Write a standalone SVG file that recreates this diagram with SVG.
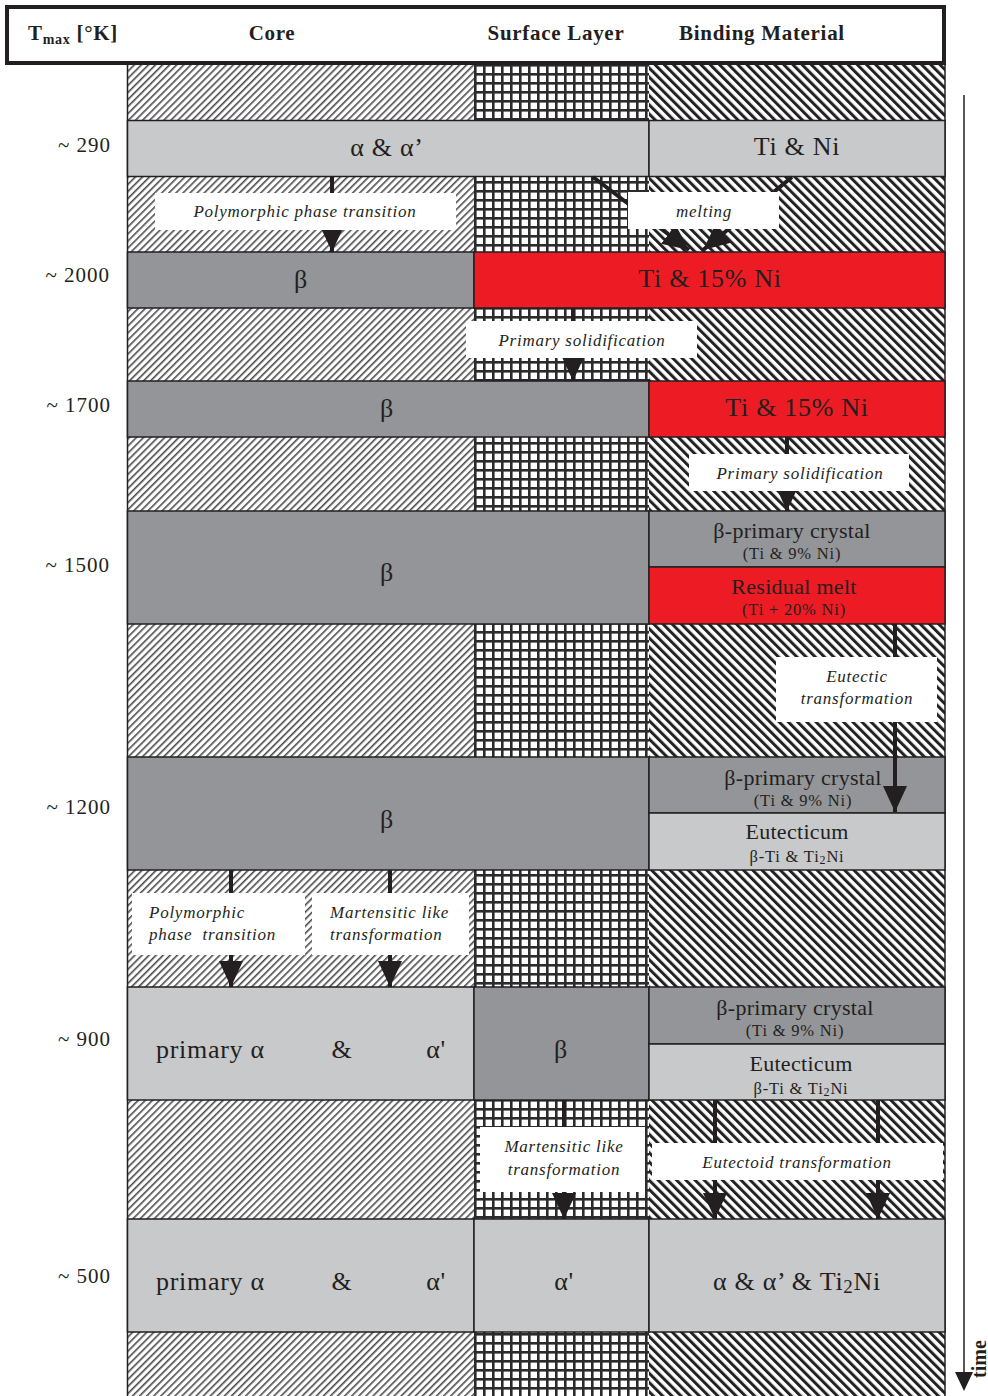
<svg xmlns="http://www.w3.org/2000/svg" width="988" height="1396" viewBox="0 0 988 1396">
<style>
.t{font-family:"Liberation Serif","Times New Roman",serif;fill:#231f20}
.h{font-weight:bold;font-size:21px;letter-spacing:0.7px}
.big{font-size:26px;letter-spacing:0.7px}
.mid{font-size:22px;letter-spacing:0.3px}
.sm{font-size:16.5px;letter-spacing:0.8px}
.it{font-style:italic;font-size:17px;letter-spacing:0.75px}
.lab{font-size:21px;letter-spacing:1px}
.lg{fill:#c8c9cb;stroke:#231f20;stroke-width:1.5}
.dg{fill:#939598;stroke:#231f20;stroke-width:1.5}
.rd{fill:#ed1c24;stroke:#231f20;stroke-width:1.5}
.box{fill:#fff}
.arr{stroke:#231f20;stroke-width:4;fill:none;marker-end:url(#ah)}
</style>
<defs>
<pattern id="pc" width="5" height="5" patternUnits="userSpaceOnUse" patternTransform="rotate(45)"><rect width="5" height="5" fill="#fff"/><line x1="0.8" y1="0" x2="0.8" y2="5" stroke="#4a4a4a" stroke-width="1.6"/></pattern>
<pattern id="ps" width="9" height="9" patternUnits="userSpaceOnUse" x="474" y="64"><rect width="9" height="9" fill="#fff"/><rect x="0" y="0" width="2.6" height="9" fill="#2b2b2b"/><rect x="0" y="0" width="9" height="2.6" fill="#2b2b2b"/></pattern>
<pattern id="pb" width="6.5" height="6.5" patternUnits="userSpaceOnUse" patternTransform="rotate(-45)"><rect width="6.5" height="6.5" fill="#fff"/><line x1="1.5" y1="0" x2="1.5" y2="6.5" stroke="#222" stroke-width="3"/></pattern>
<marker id="ah" markerUnits="userSpaceOnUse" viewBox="0 0 26 24" markerWidth="26" markerHeight="24" refX="26" refY="12" orient="auto"><path d="M0,0 L26,12 L0,24 z" fill="#231f20"/></marker>
</defs>
<rect width="988" height="1396" fill="#fff"/>

<g id="hatch">
<rect x="127" y="64" width="347" height="1332" fill="url(#pc)"/>
<rect x="474" y="64" width="175" height="1332" fill="url(#ps)"/>
<rect x="649" y="64" width="296" height="1332" fill="url(#pb)"/>
<line x1="127.5" y1="64" x2="127.5" y2="1396" stroke="#231f20" stroke-width="1.5"/>
<line x1="945" y1="64" x2="945" y2="1396" stroke="#231f20" stroke-width="1.5"/>
</g>

<g id="header">
<rect x="7" y="7" width="937" height="56" fill="#fff" stroke="#231f20" stroke-width="4"/>
<text class="t h" x="28" y="40">T<tspan font-size="14" dy="4">max</tspan><tspan dy="-4"> [°K]</tspan></text>
<text class="t h" x="272" y="40" text-anchor="middle">Core</text>
<text class="t h" x="556" y="40" text-anchor="middle">Surface Layer</text>
<text class="t h" x="762" y="40" text-anchor="middle">Binding Material</text>
</g>

<g id="temps" class="t lab" text-anchor="end">
<text x="111" y="152">~ 290</text>
<text x="110" y="282">~ 2000</text>
<text x="111" y="412">~ 1700</text>
<text x="110" y="572">~ 1500</text>
<text x="111" y="814">~ 1200</text>
<text x="111" y="1046">~ 900</text>
<text x="111" y="1283">~ 500</text>
</g>

<g id="row290">
<rect class="lg" x="127.5" y="120.5" width="521.5" height="56"/>
<rect class="lg" x="649" y="120.5" width="296" height="56"/>
<text class="t big" x="387" y="156" text-anchor="middle">α &amp; α’</text>
<text class="t big" x="797" y="155" text-anchor="middle">Ti &amp; Ni</text>
</g>

<g id="row2000">
<rect class="dg" x="127.5" y="252" width="346.5" height="56"/>
<rect class="rd" x="474" y="252" width="471" height="56"/>
<text class="t big" x="301" y="288" text-anchor="middle">β</text>
<text class="t big" x="710" y="287" text-anchor="middle">Ti &amp; 15% Ni</text>
</g>

<g id="row1700">
<rect class="dg" x="127.5" y="381" width="521.5" height="56"/>
<rect class="rd" x="649" y="381" width="296" height="56"/>
<text class="t big" x="387" y="417" text-anchor="middle">β</text>
<text class="t big" x="797" y="416" text-anchor="middle">Ti &amp; 15% Ni</text>
</g>

<g id="row1500">
<rect class="dg" x="127.5" y="511" width="521.5" height="113"/>
<rect class="dg" x="649" y="511" width="296" height="56"/>
<rect class="rd" x="649" y="567" width="296" height="57"/>
<text class="t big" x="387" y="581" text-anchor="middle">β</text>
<text class="t mid" x="792" y="538" text-anchor="middle">β-primary crystal</text>
<text class="t sm" x="792" y="559" text-anchor="middle">(Ti &amp; 9% Ni)</text>
<text class="t mid" x="794" y="594" text-anchor="middle">Residual melt</text>
<text class="t sm" x="794" y="615" text-anchor="middle">(Ti + 20% Ni)</text>
</g>

<g id="row1200">
<rect class="dg" x="127.5" y="757" width="521.5" height="113"/>
<rect class="dg" x="649" y="757" width="296" height="56"/>
<rect class="lg" x="649" y="813" width="296" height="57"/>
<text class="t big" x="387" y="828" text-anchor="middle">β</text>
<text class="t mid" x="803" y="785" text-anchor="middle">β-primary crystal</text>
<text class="t sm" x="803" y="806" text-anchor="middle">(Ti &amp; 9% Ni)</text>
<text class="t mid" x="797" y="839" text-anchor="middle">Eutecticum</text>
<text class="t sm" x="797" y="862" text-anchor="middle">β-Ti &amp; Ti<tspan font-size="12" dy="2">2</tspan><tspan dy="-2">Ni</tspan></text>
</g>

<g id="row900">
<rect class="lg" x="127.5" y="987" width="346.5" height="113"/>
<rect class="dg" x="474" y="987" width="175" height="113"/>
<rect class="dg" x="649" y="987" width="296" height="57"/>
<rect class="lg" x="649" y="1044" width="296" height="56"/>
<text class="t big" x="156" y="1058">primary α</text>
<text class="t big" x="342" y="1058" text-anchor="middle">&amp;</text>
<text class="t big" x="436" y="1058" text-anchor="middle">α'</text>
<text class="t big" x="561" y="1058" text-anchor="middle">β</text>
<text class="t mid" x="795" y="1015" text-anchor="middle">β-primary crystal</text>
<text class="t sm" x="795" y="1036" text-anchor="middle">(Ti &amp; 9% Ni)</text>
<text class="t mid" x="801" y="1071" text-anchor="middle">Eutecticum</text>
<text class="t sm" x="801" y="1094" text-anchor="middle">β-Ti &amp; Ti<tspan font-size="12" dy="2">2</tspan><tspan dy="-2">Ni</tspan></text>
</g>

<g id="row500">
<rect class="lg" x="127.5" y="1219" width="346.5" height="113"/>
<rect class="lg" x="474" y="1219" width="175" height="113"/>
<rect class="lg" x="649" y="1219" width="296" height="113"/>
<text class="t big" x="156" y="1290">primary α</text>
<text class="t big" x="342" y="1290" text-anchor="middle">&amp;</text>
<text class="t big" x="436" y="1290" text-anchor="middle">α'</text>
<text class="t big" x="564" y="1290" text-anchor="middle">α'</text>
<text class="t big" x="797" y="1290" text-anchor="middle">α &amp; α’ &amp; Ti<tspan font-size="19" dy="3">2</tspan><tspan dy="-3">Ni</tspan></text>
</g>

<g id="connectors">
<line class="arr" x1="332" y1="176" x2="332" y2="252"/>
<line class="arr" x1="593" y1="177" x2="689" y2="250"/>
<line class="arr" x1="792" y1="177" x2="703" y2="250"/>
<line class="arr" x1="573" y1="308" x2="573" y2="381"/>
<line class="arr" x1="787" y1="437" x2="787" y2="511"/>
<line class="arr" x1="895" y1="624" x2="895" y2="812"/>
<line class="arr" x1="231" y1="870" x2="231" y2="987"/>
<line class="arr" x1="390" y1="870" x2="390" y2="987"/>
<line class="arr" x1="564" y1="1100" x2="564" y2="1219"/>
<line class="arr" x1="715" y1="1100" x2="715" y2="1219"/>
<line class="arr" x1="878" y1="1100" x2="878" y2="1219"/>
<line x1="964" y1="95" x2="964" y2="1374" stroke="#231f20" stroke-width="1.5"/>
<path d="M955,1372 L973,1372 L964,1391 z" fill="#231f20"/>
</g>

<g id="labels">
<rect class="box" x="155" y="193" width="301" height="37"/>
<text class="t it" x="305" y="217" text-anchor="middle">Polymorphic phase transition</text>
<rect class="box" x="628" y="192" width="151" height="37"/>
<text class="t it" x="704" y="217" text-anchor="middle">melting</text>
<rect class="box" x="466" y="321" width="231" height="37"/>
<text class="t it" x="582" y="346" text-anchor="middle">Primary solidification</text>
<rect class="box" x="689" y="454" width="220" height="37"/>
<text class="t it" x="800" y="479" text-anchor="middle">Primary solidification</text>
<rect class="box" x="776" y="657" width="161" height="65"/>
<text class="t it" x="857" y="682" text-anchor="middle">Eutectic</text>
<text class="t it" x="857" y="704" text-anchor="middle">transformation</text>
<rect class="box" x="132" y="893" width="173" height="62"/>
<text class="t it" x="149" y="918">Polymorphic</text>
<text class="t it" x="149" y="940" xml:space="preserve">phase  transition</text>
<rect class="box" x="312" y="893" width="157" height="62"/>
<text class="t it" x="330" y="918">Martensitic like</text>
<text class="t it" x="330" y="940">transformation</text>
<rect class="box" x="480" y="1127" width="165" height="65"/>
<text class="t it" x="564" y="1152" text-anchor="middle">Martensitic like</text>
<text class="t it" x="564" y="1175" text-anchor="middle">transformation</text>
<rect class="box" x="652" y="1143" width="291" height="37"/>
<text class="t it" x="797" y="1168" text-anchor="middle">Eutectoid transformation</text>
<text class="t" font-weight="bold" font-size="20" transform="translate(986,1378) rotate(-90)">time</text>
</g>
</svg>
